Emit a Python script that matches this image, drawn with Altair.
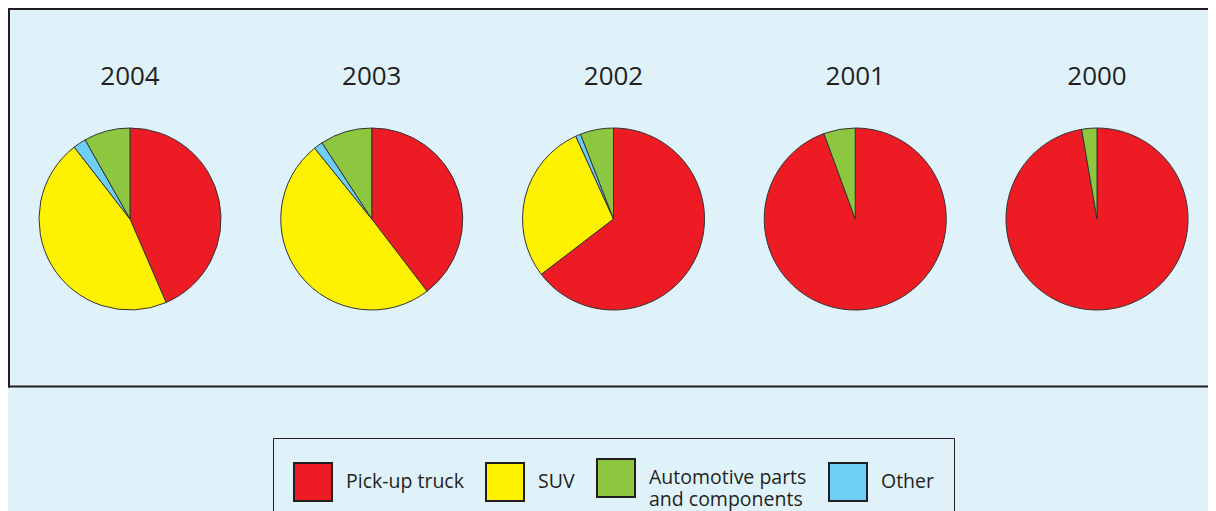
import altair as alt
import pandas as pd

years = ["2004", "2003", "2002", "2001", "2000"]
# shares (%) in clockwise drawing order starting at 12 o'clock
pickup = [43.5, 39.6, 64.6, 94.4, 97.3]
suv = [46.0, 49.6, 28.6, 0.0, 0.0]
other = [2.3, 1.6, 0.9, 0.0, 0.0]
parts = [8.2, 9.2, 5.9, 5.6, 2.7]

draw_order = ["Pick-up truck", "SUV", "Other", "Automotive parts and components"]
legend_order = ["Pick-up truck", "SUV", "Automotive parts and components", "Other"]
colors = ["#ED1C24", "#FFF200", "#8DC63F", "#6DCFF6"]

series = [pickup, suv, other, parts]
rows = []
for i, yr in enumerate(years):
    for k, cat in enumerate(draw_order):
        rows.append({"year": yr, "category": cat, "share": series[k][i], "order": k})
df = pd.DataFrame(rows)
df_years = pd.DataFrame({"year": years})
df_frame = pd.DataFrame({"k": [0]})

ink = "#231F20"
bg = "#DFF2F9"
W, H = 1200, 378

xenc = alt.X("year:N", sort=years, axis=None,
             scale=alt.Scale(type="point", domain=years, range=[122, 1089], padding=0))

pies = alt.Chart(df).transform_stack(
    stack="share", groupby=["year"], sort=[alt.SortField("order")], as_=["t0", "t1"]
).transform_filter("datum.share > 0").mark_arc(
    radius=91, stroke="#333333", strokeWidth=1
).encode(
    x=xenc,
    y=alt.value(211),
    theta=alt.Theta("t0:Q", scale=alt.Scale(domain=[0, 100], range=[0, 6.283185307])),
    theta2="t1:Q",
    color=alt.Color(
        "category:N",
        scale=alt.Scale(domain=legend_order, range=colors),
        legend=alt.Legend(
            title=None,
            orient="none",
            legendX=265,
            legendY=430,
            direction="horizontal",
            symbolType="square",
            symbolSize=1444,
            symbolStrokeColor=ink,
            symbolStrokeWidth=2,
            symbolOpacity=1,
            labelFont="Open Sans",
            labelFontSize=19.5,
            labelColor=ink,
            labelLimit=0,
            labelOffset=13,
            columnPadding=18,
            strokeColor=ink,
            padding=20,
            labelExpr="datum.label == 'Automotive parts and components' ? ['Automotive parts', 'and components'] : datum.label",
        ),
    ),
    order=alt.Order("order:Q"),
)

titles = alt.Chart(df_years).mark_text(
    font="Open Sans", fontSize=26, color=ink
).encode(
    x=xenc,
    y=alt.value(69),
    text="year:N",
)

frame_base = alt.Chart(df_frame).mark_rule(color=ink, strokeWidth=2)
frame_top = frame_base.encode(x=alt.value(0), x2=alt.value(W), y=alt.value(1))
frame_bottom = frame_base.encode(x=alt.value(0), x2=alt.value(W), y=alt.value(378.5))
frame_left = frame_base.encode(x=alt.value(1), y=alt.value(0), y2=alt.value(379.5))

chart = alt.layer(frame_top, frame_bottom, frame_left, pies, titles).properties(
    width=W, height=H,
    padding={"left": 0, "top": 0, "right": 0, "bottom": 125},
    autosize=alt.AutoSizeParams(type="none"),
    background=bg,
).configure_view(
    stroke=None, fill=bg
)

chart.save("out.html", embed_options={"renderer": "svg", "actions": False})
